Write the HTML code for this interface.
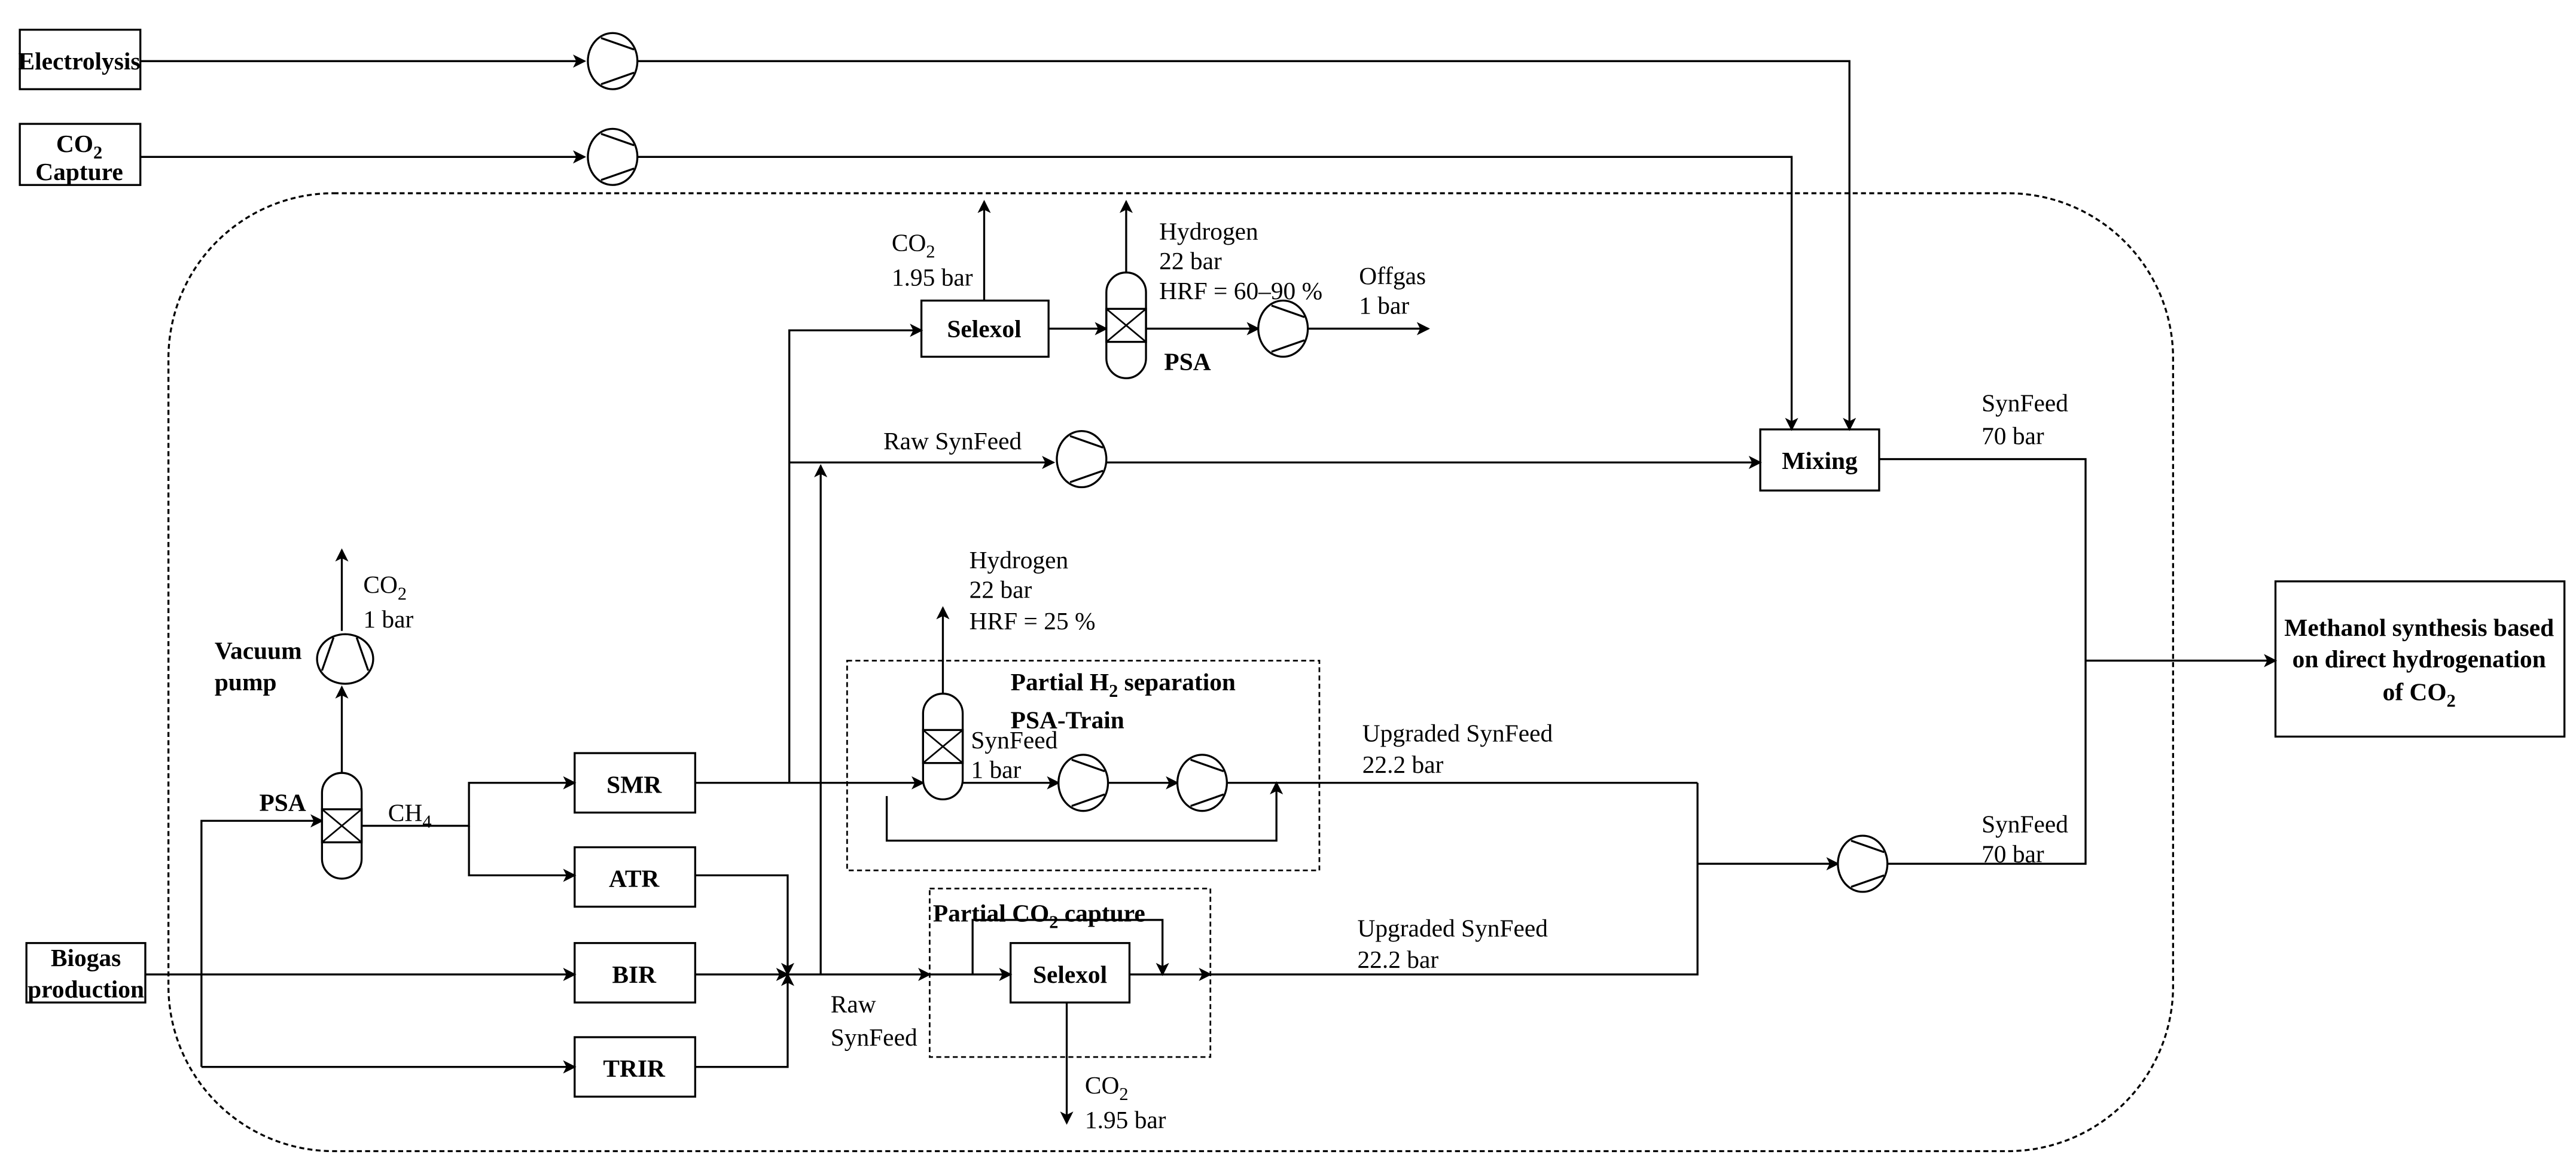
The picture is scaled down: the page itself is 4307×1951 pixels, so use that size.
<!DOCTYPE html>
<html><head><meta charset="utf-8"><style>html,body{margin:0;padding:0;background:#fff}svg{display:block}</style></head>
<body>
<svg width="4307" height="1951" viewBox="0 0 1560 706.6" preserveAspectRatio="none" xmlns="http://www.w3.org/2000/svg" font-family="'Liberation Serif', serif" font-size="15">
<defs>
<marker id="a" markerWidth="8" markerHeight="8" refX="7" refY="4" orient="auto" markerUnits="userSpaceOnUse"><path d="M0,0 L8,4 L0,8 L2,4 Z" fill="#000"/></marker>
<g id="c"><ellipse cx="0" cy="0" rx="15" ry="17" fill="#fff" stroke="#000" stroke-width="1.2"/><line x1="-7" y1="-14" x2="13" y2="-7" stroke="#000" stroke-width="1.2"/><line x1="-7" y1="14" x2="13" y2="7" stroke="#000" stroke-width="1.2"/></g>
<g id="v"><rect x="-12" y="-32" width="24" height="64" rx="12" fill="#fff" stroke="#000" stroke-width="1.2"/><rect x="-12" y="-10" width="24" height="20" fill="none" stroke="#000" stroke-width="1.2"/><path d="M-12,-10 L12,10 M12,-10 L-12,10" stroke="#000" stroke-width="1"/></g>
</defs>
<g fill="none" stroke="#000" stroke-width="1.2">
<!-- outer dashed -->
<rect x="102" y="117" width="1214" height="580" rx="100" stroke-dasharray="3,2"/>
<rect x="513" y="400" width="286" height="127" stroke-dasharray="3,2" stroke-width="1"/>
<rect x="563" y="538" width="170" height="102" stroke-dasharray="3,2" stroke-width="1"/>
<!-- boxes -->
<rect x="12" y="18" width="73" height="36"/>
<rect x="12" y="75" width="73" height="37"/>
<rect x="16" y="571" width="72" height="36"/>
<rect x="348" y="456" width="73" height="36"/>
<rect x="348" y="513" width="73" height="36"/>
<rect x="348" y="571" width="73" height="36"/>
<rect x="348" y="628" width="73" height="36"/>
<rect x="558" y="182" width="77" height="34"/>
<rect x="612" y="571" width="72" height="36"/>
<rect x="1066" y="260" width="72" height="37"/>
<rect x="1378" y="352" width="175" height="94"/>
<!-- top lines -->
<path d="M85,37 H354" marker-end="url(#a)"/>
<path d="M386,37 H1120 V260" marker-end="url(#a)"/>
<path d="M85,95 H354" marker-end="url(#a)"/>
<path d="M386,95 H1085 V260" marker-end="url(#a)"/>
<!-- mixing out -->
<path d="M1138,278 H1263 V523 H1143"/>
<path d="M1263,400 H1378" marker-end="url(#a)"/>
<!-- raw synfeed -->
<path d="M478,280 H638" marker-end="url(#a)"/>
<path d="M670,280 H1066" marker-end="url(#a)"/>
<path d="M497,590 V282" marker-end="url(#a)"/>
<path d="M478,474 V200 H558" marker-end="url(#a)"/>
<!-- selexol top -->
<path d="M596,182 V122" marker-end="url(#a)"/>
<path d="M635,199 H670" marker-end="url(#a)"/>
<path d="M682,167 V122" marker-end="url(#a)"/>
<path d="M694,199 H762" marker-end="url(#a)"/>
<path d="M792,199 H865" marker-end="url(#a)"/>
<!-- vacuum pump -->
<path d="M207,470 V416" marker-end="url(#a)"/>
<path d="M207,382 V333" marker-end="url(#a)"/>
<!-- PSA CH4 -->
<path d="M219,500 H284 V474 H348" marker-end="url(#a)"/>
<path d="M284,500 V530 H348" marker-end="url(#a)"/>
<path d="M88,590 H348" marker-end="url(#a)"/>
<path d="M122,646 V497 H195" marker-end="url(#a)"/>
<path d="M122,646 H348" marker-end="url(#a)"/>
<path d="M421,530 H477 V590" marker-end="url(#a)"/>
<path d="M421,646 H477 V590" marker-end="url(#a)"/>
<path d="M421,590 H477" marker-end="url(#a)"/>
<path d="M477,590 H563" marker-end="url(#a)"/>
<path d="M563,590 H612" marker-end="url(#a)"/>
<path d="M589,590 V557 H704 V590" marker-end="url(#a)"/>
<path d="M684,590 H733" marker-end="url(#a)"/>
<path d="M733,590 H1028 V474"/>
<path d="M646,607 V680" marker-end="url(#a)"/>
<!-- H2 PSA train -->
<path d="M421,474 H559" marker-end="url(#a)"/>
<path d="M571,422 V368" marker-end="url(#a)"/>
<path d="M583,474 H641" marker-end="url(#a)"/>
<path d="M671,474 H713" marker-end="url(#a)"/>
<path d="M743,474 H1028"/>
<path d="M537,482 V509 H773 V474" marker-end="url(#a)"/>
<path d="M1028,523 H1113" marker-end="url(#a)"/>
</g>
<use href="#c" x="371" y="37"/>
<use href="#c" x="371" y="95"/>
<use href="#c" x="655" y="278"/>
<use href="#c" x="777" y="199"/>
<use href="#c" x="656" y="474"/>
<use href="#c" x="728" y="474"/>
<use href="#c" x="1128" y="523"/>
<use href="#c" transform="translate(209,399) rotate(-90)"/>
<use href="#v" x="682" y="197"/>
<use href="#v" x="207" y="500"/>
<use href="#v" x="571" y="452"/>
<g font-weight="bold" text-anchor="middle">
<text x="48" y="42">Electrolysis</text>
<text x="48" y="92">CO<tspan font-size="11" dy="4">2</tspan></text>
<text x="48" y="109">Capture</text>
<text x="52" y="585">Biogas</text>
<text x="52" y="604">production</text>
<text x="384" y="480">SMR</text>
<text x="384" y="537">ATR</text>
<text x="384" y="595">BIR</text>
<text x="384" y="652">TRIR</text>
<text x="596" y="204">Selexol</text>
<text x="648" y="595">Selexol</text>
<text x="1102" y="284">Mixing</text>
<text x="1465" y="385">Methanol synthesis based</text>
<text x="1465" y="404">on direct hydrogenation</text>
<text x="1465" y="424">of CO<tspan font-size="11" dy="4">2</tspan></text>
</g>
<g font-weight="bold">
<text x="705" y="224">PSA</text>
<text x="157" y="491">PSA</text>
<text x="130" y="399">Vacuum</text>
<text x="130" y="418">pump</text>
<text x="612" y="418">Partial H<tspan font-size="11" dy="4">2</tspan><tspan dy="-4"> separation</tspan></text>
<text x="612" y="441">PSA-Train</text>
<text x="565" y="558">Partial CO<tspan font-size="11" dy="4">2</tspan><tspan dy="-4"> capture</tspan></text>
</g>
<g>
<text x="540" y="152">CO<tspan font-size="11" dy="4">2</tspan></text>
<text x="540" y="173">1.95 bar</text>
<text x="702" y="145">Hydrogen</text>
<text x="702" y="163">22 bar</text>
<text x="702" y="181">HRF = 60–90 %</text>
<text x="823" y="172">Offgas</text>
<text x="823" y="190">1 bar</text>
<text x="535" y="272">Raw SynFeed</text>
<text x="1200" y="249">SynFeed</text>
<text x="1200" y="269">70 bar</text>
<text x="220" y="359">CO<tspan font-size="11" dy="4">2</tspan></text>
<text x="220" y="380">1 bar</text>
<text x="587" y="344">Hydrogen</text>
<text x="587" y="362">22 bar</text>
<text x="587" y="381">HRF = 25 %</text>
<text x="588" y="453">SynFeed</text>
<text x="588" y="471">1 bar</text>
<text x="235" y="497">CH<tspan font-size="11" dy="4">4</tspan></text>
<text x="825" y="449">Upgraded SynFeed</text>
<text x="825" y="468">22.2 bar</text>
<text x="822" y="567">Upgraded SynFeed</text>
<text x="822" y="586">22.2 bar</text>
<text x="1200" y="504">SynFeed</text>
<text x="1200" y="522">70 bar</text>
<text x="503" y="613">Raw</text>
<text x="503" y="633">SynFeed</text>
<text x="657" y="662">CO<tspan font-size="11" dy="4">2</tspan></text>
<text x="657" y="683">1.95 bar</text>
</g>
</svg>
</body></html>
